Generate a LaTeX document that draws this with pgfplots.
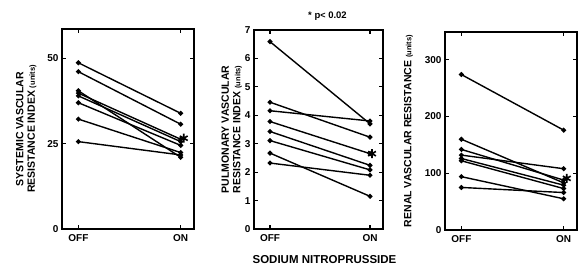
\documentclass[border=0pt]{standalone}
\usepackage{fontspec}
\setmainfont{Liberation Sans}
\usepackage{pgfplots}
\pgfplotsset{compat=1.18}
\begin{document}
\begin{tikzpicture}[font=\bfseries]
\useasboundingbox (0pt,0pt) rectangle (578pt,268pt);
\pgfplotsset{
  pt/.style={black,solid,line width=1.4pt,mark=*,mark size=1.7pt},
  st/.style={black,only marks,mark=asterisk,mark size=4.5pt,line width=1.6pt},
  panel/.style={
    scale only axis,
    anchor=south west,
    axis line style={line width=1.6pt},
    tick style={line width=1.2pt,black},
    major tick length=4pt,
    tick align=inside,
    xtick={0,1},
    xticklabels={OFF,ON},
    xmin=-0.16, xmax=1.13,
    ymin=0,
    ticklabel style={font=\bfseries\fontsize{10}{11}\selectfont},
    /pgf/number format/assume math mode=true,
    xticklabel style={yshift=-2pt},
    ylabel style={font=\bfseries\fontsize{10.5}{11.5}\selectfont,align=center},
  },
}
% Panel 1
\begin{axis}[panel, at={(62pt,39pt)}, width=132pt, height=200pt,
  ymax=58.6, ytick={0,25,50},
  ylabel={SYSTEMIC VASCULAR\\RESISTANCE INDEX {\fontsize{7.5}{8}\selectfont(units)}},
  ylabel shift=4pt]
\addplot[pt] coordinates {(0,48.7) (1,33.9)};
\addplot[pt] coordinates {(0,46.1) (1,30.7)};
\addplot[pt] coordinates {(0,40.5) (1,21.0)};
\addplot[pt] coordinates {(0,39.8) (1,26.3)};
\addplot[pt] coordinates {(0,39.0) (1,25.6)};
\addplot[pt] coordinates {(0,37.0) (1,24.5)};
\addplot[pt] coordinates {(0,32.2) (1,22.4)};
\addplot[pt] coordinates {(0,25.6) (1,21.7)};
\addplot[st] coordinates {(1.03,26.6)};
\end{axis}
% Panel 2
\begin{axis}[panel, at={(254pt,39pt)}, width=129pt, height=199pt,
  ymax=7, ytick={0,1,2,3,4,5,6,7},
  ylabel={PULMONARY VASCULAR\\RESISTANCE INDEX {\fontsize{7.5}{8}\selectfont(units)}},
  ylabel shift=-4pt,
  title={* p{\fontsize{9}{10}\selectfont<} 0.02},
  title style={font=\bfseries\fontsize{9.5}{10}\selectfont,yshift=0pt,xshift=9pt},
  xlabel={SODIUM NITROPRUSSIDE},
  xlabel style={font=\bfseries\fontsize{11.5}{12}\selectfont,xshift=6pt,yshift=-7pt}]
\addplot[pt] coordinates {(0,6.59) (1,3.70)};
\addplot[pt] coordinates {(0,4.46) (1,3.23)};
\addplot[pt] coordinates {(0,4.16) (1,3.80)};
\addplot[pt] coordinates {(0,3.78) (1,2.65)};
\addplot[pt] coordinates {(0,3.43) (1,2.24)};
\addplot[pt] coordinates {(0,3.11) (1,2.08)};
\addplot[pt] coordinates {(0,2.67) (1,1.15)};
\addplot[pt] coordinates {(0,2.32) (1,1.89)};
\addplot[st] coordinates {(1.02,2.65)};
\end{axis}
% Panel 3
\begin{axis}[panel, at={(445pt,38pt)}, width=132pt, height=198pt,
  ymax=349, ytick={0,100,200,300},
  ylabel={RENAL VASCULAR RESISTANCE {\fontsize{7.5}{8}\selectfont(units)}},
  ylabel shift=5pt]
\addplot[pt] coordinates {(0,274) (1,176)};
\addplot[pt] coordinates {(0,160) (1,83)};
\addplot[pt] coordinates {(0,142) (1,88)};
\addplot[pt] coordinates {(0,132) (1,108)};
\addplot[pt] coordinates {(0,126) (1,79)};
\addplot[pt] coordinates {(0,122) (1,73)};
\addplot[pt] coordinates {(0,94) (1,55)};
\addplot[pt] coordinates {(0,75) (1,66)};
\addplot[st] coordinates {(1.03,91)};
\end{axis}
\end{tikzpicture}
\end{document}
